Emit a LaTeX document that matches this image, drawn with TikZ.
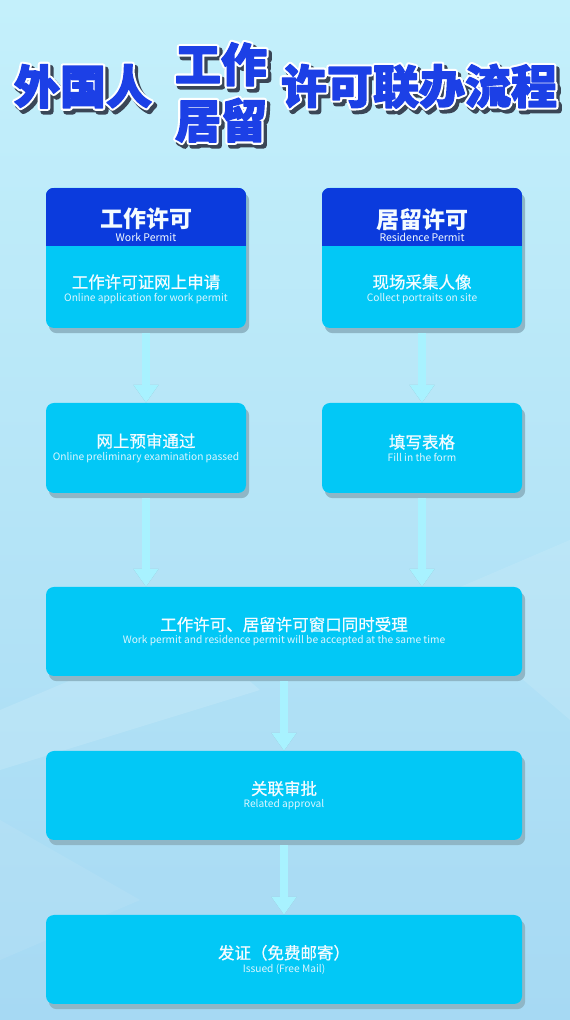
\documentclass[tikz,border=0pt]{standalone}
\usepackage{fontspec}
\setmainfont{Noto Sans CJK SC}
\newfontfamily\cjk{Noto Sans CJK SC}
\newfontfamily\cjkm{Noto Sans CJK SC}[FakeBold=0.7]
\usetikzlibrary{arrows.meta}
\definecolor{boxc}{HTML}{02C8F6}
\definecolor{hdrc}{HTML}{0B3BDD}
\definecolor{shad}{HTML}{8FB6C6}
\definecolor{arrc}{HTML}{A8F2FF}
\definecolor{titc}{HTML}{1C40E6}
\definecolor{titsh}{HTML}{3A4656}
\definecolor{bgtop}{HTML}{C4F0FB}
\definecolor{bgbot}{HTML}{A6D9F3}
\definecolor{zhc}{HTML}{F4FBFF}
\definecolor{enc}{HTML}{DDF6FF}
\pgfdeclarelayer{bg}
\pgfdeclarelayer{sh}
\pgfsetlayers{bg,sh,main}
\tikzset{
 box/.style={fill=boxc, rounded corners=8pt, minimum width=200pt, inner sep=0pt, align=center, text=zhc},
 tallbox/.style={box, minimum height=140pt},
 smallbox/.style={box, minimum height=90pt},
 widebox/.style={box, minimum width=476pt, minimum height=89pt},
 boxshadow/.style={fill=shad, rounded corners=8pt},
 flow/.style={draw=arrc, line width=8pt, -{Triangle[width=24pt,length=18pt]}, shorten <=5pt},
 flowshadow/.style={draw=shad, line width=8pt, -{Triangle[width=24pt,length=18pt]}, shorten <=5pt},
 label/.style={align=center, inner sep=0pt, text=zhc},
 titlefont/.style={font=\cjk\bfseries\fontsize{46}{46}\selectfont, inner sep=0pt},
}
\newcommand{\trmode}[2]{\special{pdf:literal direct #1 Tr #2 w 1 j}}
\newcommand{\zh}[1]{{\cjkm\fontsize{16.5}{19}\selectfont #1}}
\newcommand{\en}[1]{{\fontsize{10.2}{12}\selectfont\color{enc}#1}}
\newcommand{\hzh}[1]{{\bfseries\fontsize{23}{25}\selectfont #1}}
\newcommand{\hen}[1]{{\fontsize{10.5}{12}\selectfont #1}}
\newcommand{\titlestack}[1]{%
 \rlap{\kern3pt\raisebox{-3.5pt}{\color{titsh}\trmode{2}{6}#1}}%
 \rlap{\color{white}\trmode{2}{5.5}#1}%
 {\color{titc}\trmode{2}{1.3}#1}\trmode{0}{1}}
\begin{document}
\begin{tikzpicture}[x=1pt,y=1pt]
\begin{pgfonlayer}{bg}
\shade[top color=bgtop, bottom color=bgbot] (0,0) rectangle (570,1020);
\fill[white, opacity=0.13] (0,250) -- (0,310) -- (190,390) -- (260,330) -- cycle;
\fill[white, opacity=0.10] (570,300) -- (570,480) -- (430,420) -- cycle;
\fill[white, opacity=0.08] (0,60) -- (0,200) -- (140,120) -- cycle;
\end{pgfonlayer}
\useasboundingbox (0,0) rectangle (570,1020);

% title
\node[titlefont] (t1) at (83,932) {\titlestack{外国人}};
\node[titlefont] (t2) at (221,954) {\titlestack{工作}};
\node[titlefont] (t3) at (221,898) {\titlestack{居留}};
\node[titlefont] (t4) at (419,932) {\titlestack{许可联办流程}};

% boxes
\node[tallbox] (b1) at (146,762) {};
\node[tallbox] (b2) at (422,762) {};
\node[smallbox] (b3) at (146,572) {\zh{网上预审通过}\\[1pt]\en{Online preliminary examination passed}};
\node[smallbox] (b4) at (422,572) {\zh{填写表格}\\[1pt]\en{Fill in the form}};
\node[widebox] (b5) at (284,388.5) {\zh{工作许可、居留许可窗口同时受理}\\[1pt]\en{Work permit and residence permit will be accepted at the same time}};
\node[widebox] (b6) at (284,224.5) {\zh{关联审批}\\[1pt]\en{Related approval}};
\node[widebox] (b7) at (284,60.5) {\zh{发证（免费邮寄）}\\[1pt]\en{Issued (Free Mail)}};

% headers
\foreach \b in {b1,b2} {
 \begin{scope}
 \clip[rounded corners=8pt] (\b.south west) rectangle (\b.north east);
 \fill[hdrc] (\b.north west) rectangle (\b.east |- 0,774);
 \end{scope}
}
\node[label] (h1) at (146,795) {\hzh{工作许可}\\[1.5pt]\hen{Work Permit}};
\node[label] (h2) at (422,795) {\hzh{居留许可}\\[1.5pt]\hen{Residence Permit}};
\node[label] (c1) at (146,731) {\zh{工作许可证网上申请}\\[1pt]\en{Online application for work permit}};
\node[label] (c2) at (422,731) {\zh{现场采集人像}\\[1pt]\en{Collect portraits on site}};

% shadows
\begin{pgfonlayer}{sh}
\foreach \b in {b1,b2,b3,b4,b5,b6,b7} {
 \fill[boxshadow] ([shift={(3,-5)}]\b.south west) rectangle ([shift={(3,-5)}]\b.north east);
}
\begin{scope}[shift={(2.5,-1)}]
\draw[flowshadow] (b1.south) -- (b3.north);
\draw[flowshadow] (b2.south) -- (b4.north);
\draw[flowshadow] (b3.south) -- (b3.south |- b5.north);
\draw[flowshadow] (b4.south) -- (b4.south |- b5.north);
\draw[flowshadow] (b5.south) -- (b6.north);
\draw[flowshadow] (b6.south) -- (b7.north);
\end{scope}
\end{pgfonlayer}

% connectors
\draw[flow] (b1.south) -- (b3.north);
\draw[flow] (b2.south) -- (b4.north);
\draw[flow] (b3.south) -- (b3.south |- b5.north);
\draw[flow] (b4.south) -- (b4.south |- b5.north);
\draw[flow] (b5.south) -- (b6.north);
\draw[flow] (b6.south) -- (b7.north);
\end{tikzpicture}
\end{document}
